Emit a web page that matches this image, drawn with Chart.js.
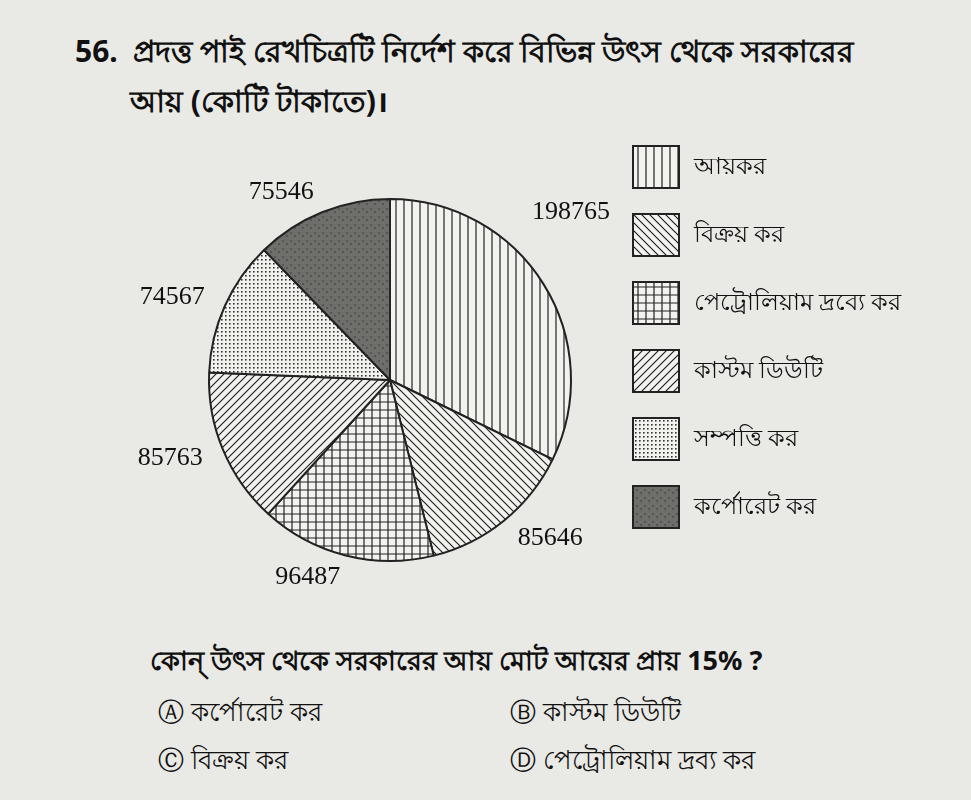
<!DOCTYPE html>
<html>
<head>
<meta charset="utf-8">
<script src="https://cdn.jsdelivr.net/npm/chart.js@4"></script>
<style>
body{margin:0;background:#e9e9e5;font-family:"Noto Sans","Liberation Serif",serif;color:#111;}
#page{position:relative;width:971px;height:800px;overflow:hidden;}
.t{position:absolute;font-size:30px;font-weight:bold;white-space:nowrap;}
#wrap{position:absolute;left:40px;top:150px;width:700px;height:460px;}
.leg{position:absolute;left:632px;font-size:24px;}
.leg canvas{position:absolute;left:0;top:0;border:2px solid #222;}
.leg span{position:absolute;left:62px;top:2px;white-space:nowrap;}
.opt{position:absolute;font-size:26px;white-space:nowrap;}
</style>
</head>
<body>
<div id="page">
<div class="t" style="left:75px;top:28px">56.&nbsp; প্রদত্ত পাই রেখচিত্রটি নির্দেশ করে বিভিন্ন উৎস থেকে সরকারের</div>
<div class="t" style="left:130px;top:78px">আয় (কোটি টাকাতে)।</div>
<div id="wrap"><canvas id="c"></canvas></div>
<div id="legend"></div>
<div class="t" style="left:150px;top:640px;font-size:27px">কোন্ উৎস থেকে সরকারের আয় মোট আয়ের প্রায় 15% ?</div>
<div class="opt" style="left:158px;top:692px">Ⓐ কর্পোরেট কর</div>
<div class="opt" style="left:510px;top:692px">Ⓑ কাস্টম ডিউটি</div>
<div class="opt" style="left:158px;top:740px">Ⓒ বিক্রয় কর</div>
<div class="opt" style="left:510px;top:740px">Ⓓ পেট্রোলিয়াম দ্রব্য কর</div>
</div>
<script>
// data
var labels = ['আয়কর', 'বিক্রয় কর', 'পেট্রোলিয়াম দ্রব্যে কর', 'কাস্টম ডিউটি', 'সম্পত্তি কর', 'কর্পোরেট কর'];
var values = [198765, 85646, 96487, 85763, 74567, 75546];
var kinds = ['vert', 'back', 'grid', 'fwd', 'dots', 'dark'];

function makePattern(kind){
  var p = document.createElement('canvas');
  p.width = 8; p.height = 8;
  var g = p.getContext('2d');
  g.fillStyle = kind == 'dark' ? '#6e6e6a' : '#f2f2ee';
  g.fillRect(0,0,8,8);
  g.strokeStyle = '#222'; g.lineWidth = 1.2;
  g.beginPath();
  if (kind == 'vert') { g.moveTo(4,0); g.lineTo(4,8); }
  if (kind == 'grid') { g.moveTo(4,0); g.lineTo(4,8); g.moveTo(0,4); g.lineTo(8,4); }
  if (kind == 'back') { g.moveTo(0,0); g.lineTo(8,8); g.moveTo(-4,4); g.lineTo(4,12); g.moveTo(4,-4); g.lineTo(12,4); }
  if (kind == 'fwd') { g.moveTo(0,8); g.lineTo(8,0); g.moveTo(-4,4); g.lineTo(4,-4); g.moveTo(4,12); g.lineTo(12,4); }
  g.stroke();
  if (kind == 'dots') { g.fillStyle = '#333'; g.fillRect(1,1,1.6,1.6); g.fillRect(5,5,1.6,1.6); g.fillRect(5,1,1.6,1.6); g.fillRect(1,5,1.6,1.6); }
  if (kind == 'dark') { g.fillStyle = '#555'; g.fillRect(2,2,2,2); g.fillRect(6,5,2,2); }
  return g.createPattern(p, 'repeat');
}
var fills = kinds.map(makePattern);

// legend
var leg = document.getElementById('legend');
labels.forEach(function(l, i){
  var d = document.createElement('div');
  d.className = 'leg'; d.style.top = (145 + i*68) + 'px';
  var cv = document.createElement('canvas'); cv.width = 44; cv.height = 40;
  var g = cv.getContext('2d'); g.fillStyle = fills[i]; g.fillRect(0,0,44,40);
  d.appendChild(cv);
  var s = document.createElement('span'); s.textContent = l; d.appendChild(s);
  leg.appendChild(d);
});

var outLabels = {
  id: 'outLabels',
  afterDraw: function(chart){
    var ctx = chart.ctx;
    var meta = chart.getDatasetMeta(0);
    ctx.save();
    ctx.font = '26px "Liberation Serif", serif';
    ctx.fillStyle = '#111';
    meta.data.forEach(function(arc, i){
      var a = (arc.startAngle + arc.endAngle)/2;
      var r = arc.outerRadius + 22;
      var x = arc.x + Math.cos(a)*r, y = arc.y + Math.sin(a)*r;
      ctx.textAlign = Math.cos(a) > 0.2 ? 'left' : (Math.cos(a) < -0.2 ? 'right' : 'center');
      if (i == 0) { x = arc.x + 220; y = arc.y - 168; ctx.textAlign = 'right'; }
      ctx.textBaseline = 'middle';
      ctx.fillText(values[i], x, y);
    });
    ctx.restore();
  }
};

new Chart(document.getElementById('c'), {
  type: 'pie',
  data: { labels: labels, datasets: [{ data: values, backgroundColor: fills, borderColor: '#222', borderWidth: 2 }] },
  options: {
    responsive: true, maintainAspectRatio: false, animation: false,
    layout: { padding: { left: 168, right: 168, top: 48, bottom: 48 } },
    plugins: { legend: { display: false }, tooltip: { enabled: false } }
  },
  plugins: [outLabels]
});
</script>
</body>
</html>
